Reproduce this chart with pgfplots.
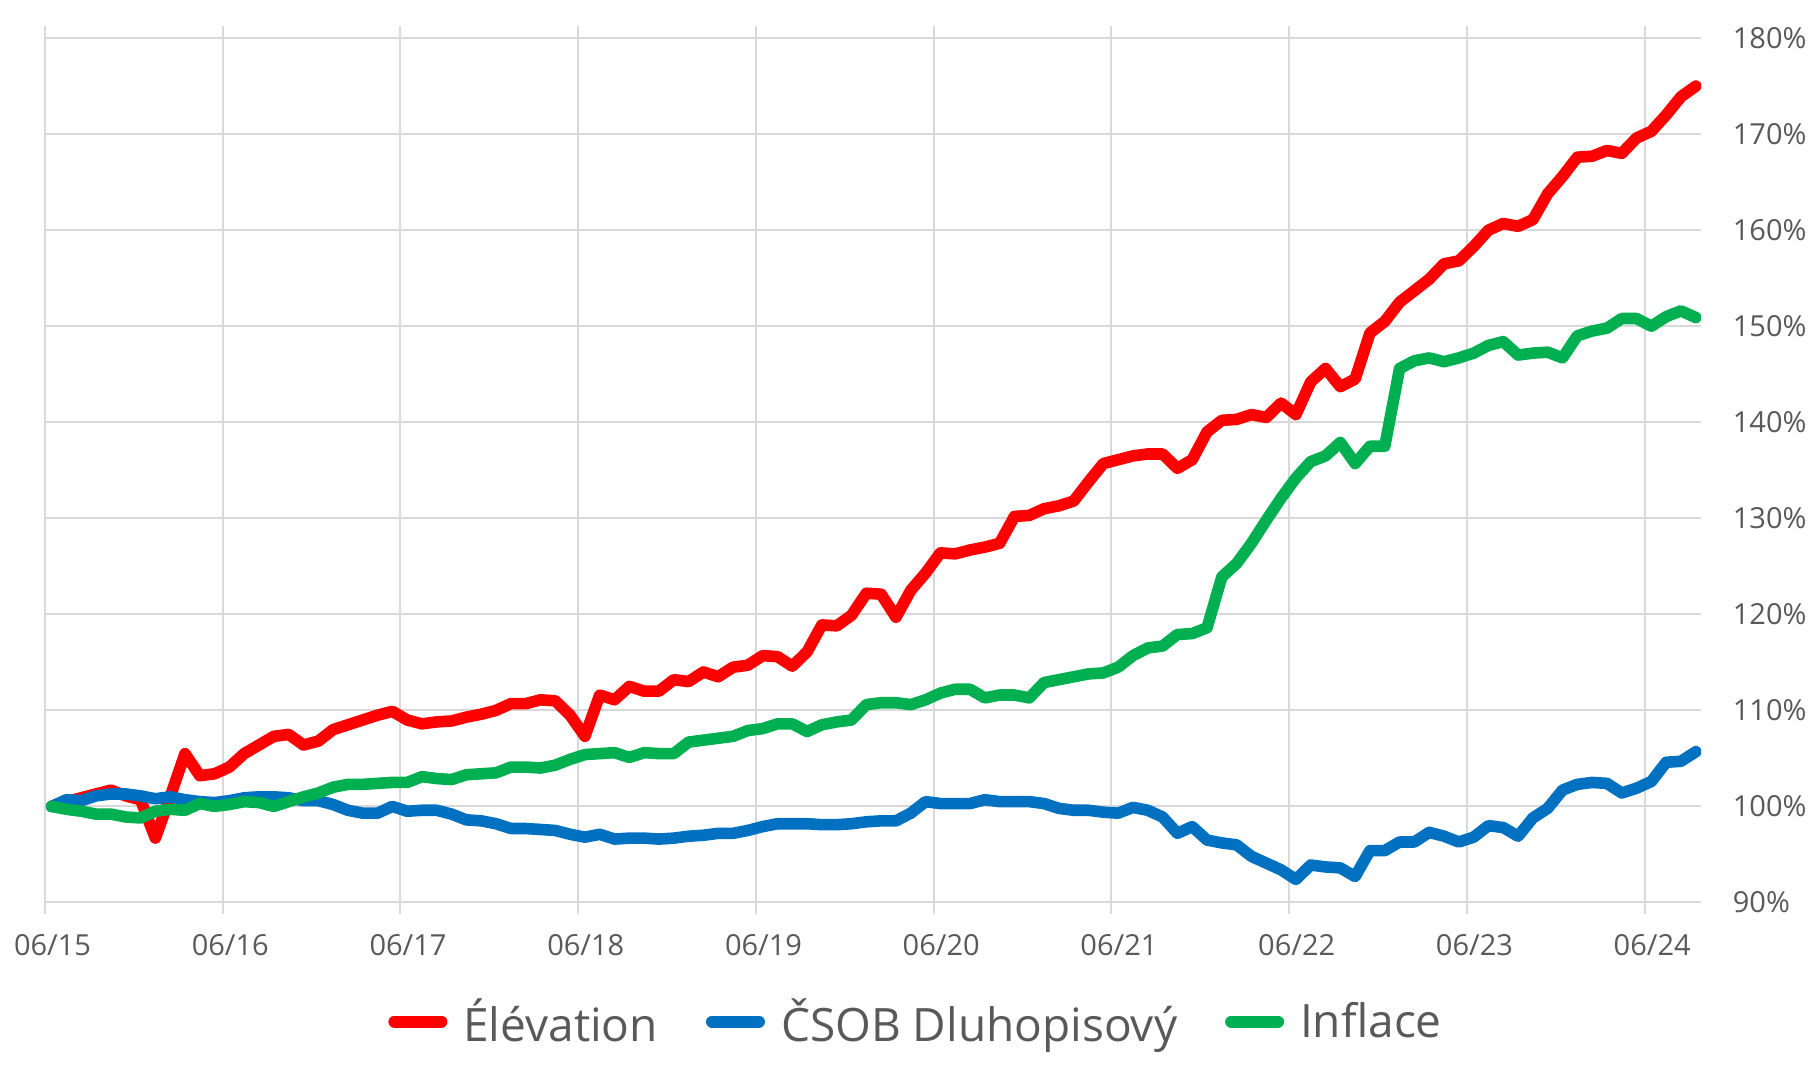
\documentclass[border=0pt]{standalone}
\usepackage{fontspec}
\setmainfont{Open Sans}
\usepackage{pgfplots}
\usepackage{pgfplotstable}
\pgfplotsset{compat=1.18}
\definecolor{elred}{HTML}{FF0000}
\definecolor{csblue}{HTML}{0070C0}
\definecolor{infgreen}{HTML}{00B050}
\definecolor{txtgray}{HTML}{595959}
\definecolor{gridgray}{HTML}{D9D9D9}

% i = month index from 06/15, values in %
\pgfplotstableread{
i red blue green
0 100.0 100.0 100.0
1 100.5 100.7 99.7
2 100.9 100.6 99.5
3 101.3 101.1 99.2
4 101.7 101.3 99.2
5 101.1 101.3 98.9
6 100.7 101.1 98.8
7 96.7 100.8 99.5
8 101.0 101.0 99.7
9 105.5 100.7 99.6
10 103.2 100.5 100.3
11 103.4 100.4 100.0
12 104.1 100.6 100.2
13 105.5 100.9 100.5
14 106.4 101.0 100.4
15 107.3 101.0 100.0
16 107.5 100.9 100.5
17 106.4 100.6 101.0
18 106.8 100.6 101.4
19 108.0 100.2 102.0
20 108.5 99.6 102.3
21 109.0 99.3 102.3
22 109.5 99.3 102.4
23 109.9 100.0 102.5
24 109.0 99.5 102.5
25 108.6 99.6 103.1
26 108.8 99.6 102.9
27 108.9 99.2 102.8
28 109.3 98.6 103.3
29 109.6 98.5 103.4
30 110.0 98.2 103.5
31 110.7 97.7 104.1
32 110.7 97.7 104.1
33 111.1 97.6 104.0
34 111.0 97.5 104.3
35 109.5 97.1 104.9
36 107.3 96.8 105.4
37 111.6 97.1 105.5
38 111.1 96.6 105.6
39 112.5 96.7 105.1
40 112.0 96.7 105.6
41 112.0 96.6 105.5
42 113.2 96.7 105.5
43 113.0 96.9 106.7
44 114.0 97.0 106.9
45 113.5 97.2 107.1
46 114.5 97.2 107.3
47 114.7 97.5 107.9
48 115.7 97.9 108.1
49 115.6 98.2 108.6
50 114.6 98.2 108.6
51 116.1 98.2 107.8
52 118.9 98.1 108.5
53 118.8 98.1 108.8
54 119.9 98.2 109.0
55 122.2 98.4 110.6
56 122.1 98.5 110.8
57 119.7 98.5 110.8
58 122.5 99.3 110.6
59 124.3 100.5 111.1
60 126.4 100.3 111.8
61 126.3 100.3 112.2
62 126.7 100.3 112.2
63 127.0 100.7 111.3
64 127.4 100.5 111.6
65 130.2 100.5 111.6
66 130.3 100.5 111.3
67 131.0 100.3 112.9
68 131.3 99.8 113.2
69 131.8 99.6 113.5
70 133.8 99.6 113.8
71 135.7 99.4 113.9
72 136.1 99.3 114.5
73 136.5 99.9 115.7
74 136.7 99.6 116.5
75 136.7 98.9 116.7
76 135.2 97.2 117.9
77 136.1 97.9 118.0
78 139.0 96.5 118.6
79 140.2 96.2 123.9
80 140.3 96.0 125.3
81 140.8 94.8 127.4
82 140.5 94.1 129.8
83 142.0 93.4 132.1
84 140.8 92.4 134.2
85 144.2 93.9 135.9
86 145.6 93.7 136.5
87 143.7 93.6 137.9
88 144.5 92.7 135.7
89 149.3 95.4 137.5
90 150.5 95.4 137.5
91 152.5 96.3 145.6
92 153.7 96.3 146.4
93 154.9 97.3 146.7
94 156.5 96.9 146.3
95 156.8 96.3 146.7
96 158.3 96.8 147.2
97 160.0 98.0 148.0
98 160.7 97.8 148.4
99 160.4 96.9 147.0
100 161.1 98.8 147.2
101 163.8 99.8 147.3
102 165.6 101.7 146.7
103 167.6 102.3 149.0
104 167.7 102.5 149.5
105 168.3 102.4 149.8
106 168.0 101.4 150.8
107 169.6 101.9 150.8
108 170.3 102.6 150.0
109 172.0 104.6 151.0
110 173.9 104.7 151.6
111 175.0 105.7 150.9
}\perf

\begin{document}
\begin{tikzpicture}
\begin{axis}[
  scale only axis,
  width=828pt, height=432.2pt,
  xmin=0, xmax=111.8,
  ymin=90, ymax=180,
  axis line style={draw=none},
  xtick={0,12,...,108},
  xticklabels={06/15,06/16,06/17,06/18,06/19,06/20,06/21,06/22,06/23,06/24},
  ytick={90,100,...,180},
  yticklabels={90\%,100\%,110\%,120\%,130\%,140\%,150\%,160\%,170\%,180\%},
  yticklabel pos=right,
  ytick style={draw=none},
  xtick style={draw=gridgray, line width=1pt},
  tick align=outside,
  major tick length=6pt,
  grid=major,
  grid style={gridgray, line width=1pt},
  ticklabel style={font=\fontsize{14.5}{17}\selectfont, text=txtgray},
  yticklabel style={anchor=west, xshift=6.4pt},
  xticklabel style={yshift=-6.7pt, xshift=3.75pt},
  legend columns=3,
  legend style={
    at={(0.5266,-0.1377)}, anchor=center,
    draw=none, fill=none,
    font=\fontsize{23}{27}\selectfont, text=txtgray,
    /tikz/every odd column/.append style={column sep=6pt},
    /tikz/every even column/.append style={column sep=22pt},
  },
  every axis plot/.append style={
    line width=5.8pt, line join=round, line cap=round, mark=none,
    legend image code/.code={
      \draw[##1, line width=6pt, line cap=round] (3pt,0pt) -- (26.5pt,0pt);
    },
  },
]
\addplot[elred] table[x expr=\thisrow{i}+0.45, y=red] {\perf};
\addplot[csblue] table[x expr=\thisrow{i}+0.45, y=blue] {\perf};
\addplot[infgreen] table[x expr=\thisrow{i}+0.45, y=green] {\perf};
\legend{Élévation, ČSOB Dluhopisový, Inflace}
\coordinate (sw) at (rel axis cs:0,0);
\coordinate (ne) at (rel axis cs:1,1);
\end{axis}
\pgfresetboundingbox
\path ([shift={(-22.5pt,-84.75pt)}]sw) rectangle ([shift={(55.5pt,19.05pt)}]ne);
\end{tikzpicture}
\end{document}
